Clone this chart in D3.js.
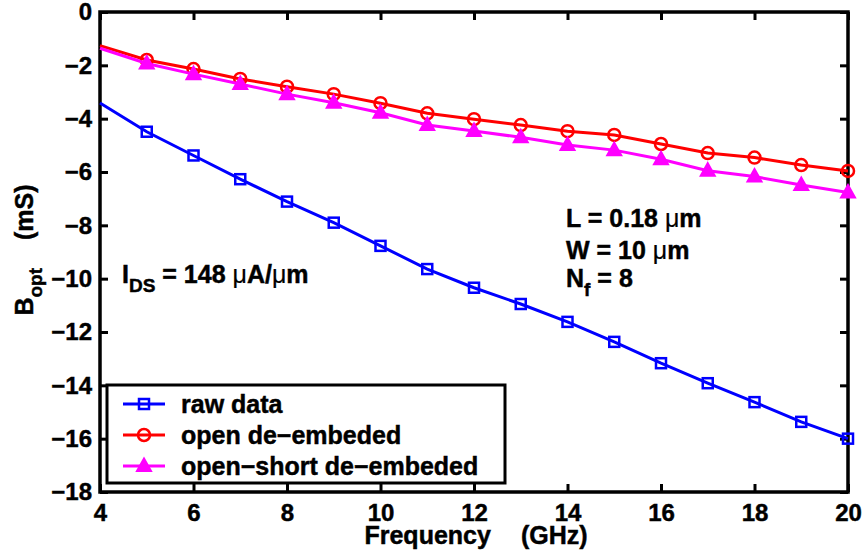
<!DOCTYPE html>
<html>
<head>
<meta charset="utf-8">
<script src="https://cdn.jsdelivr.net/npm/d3@7"></script>
<style>
  body { margin: 0; background: #fff; }
  svg { display: block; }
  svg text { font-family: "Liberation Sans", Arial, sans-serif; font-weight: bold; stroke: #000; stroke-width: 0.45px; }
</style>
</head>
<body>
<div id="canvas"></div>
<script>
// data
const freq = [4, 5, 6, 7, 8, 9, 10, 11, 12, 13, 14, 15, 16, 17, 18, 19, 20];
const rawData = [-3.41, -4.49, -5.38, -6.27, -7.11, -7.9, -8.77, -9.64, -10.34, -10.95, -11.62, -12.37, -13.17, -13.92, -14.63, -15.37, -16.0];
const openDe = [-1.26, -1.8, -2.14, -2.51, -2.8, -3.08, -3.42, -3.8, -4.02, -4.24, -4.47, -4.61, -4.95, -5.29, -5.46, -5.74, -5.96];
const openShortDe = [-1.36, -1.93, -2.33, -2.7, -3.08, -3.4, -3.78, -4.24, -4.46, -4.7, -4.99, -5.18, -5.52, -5.95, -6.17, -6.49, -6.77];
const xTicks = [4, 6, 8, 10, 12, 14, 16, 18, 20];
const yTicks = [0, -2, -4, -6, -8, -10, -12, -14, -16, -18];
const seriesNames = ["raw data", "open de\u2212embeded", "open\u2212short de\u2212embeded"];

// set the dimensions and margins of the graph
const W = 866, H = 557;
const margin = {top: 12, right: 18, bottom: 65, left: 100},
    width = W - margin.left - margin.right,
    height = H - margin.top - margin.bottom;

const svg = d3.select("#canvas")
    .append("svg")
    .attr("width", W)
    .attr("height", H);

const g = svg.append("g")
    .attr("transform", `translate(${margin.left},${margin.top})`);

const x = d3.scaleLinear().domain([4, 20]).range([0, width]);
const y = d3.scaleLinear().domain([-18, 0]).range([height, 0]);

const fmt = d => String(d).replace("-", "\u2212");

// axes: ticks inside on all four sides
const tick = 8;
g.append("g")
    .attr("transform", `translate(0,${height})`)
    .call(d3.axisBottom(x).tickValues(xTicks).tickSizeInner(-tick).tickSizeOuter(0).tickPadding(12).tickFormat(fmt));
g.append("g")
    .call(d3.axisTop(x).tickValues(xTicks).tickSizeInner(-tick).tickSizeOuter(0).tickFormat(""));
g.append("g")
    .call(d3.axisLeft(y).tickValues(yTicks).tickSizeInner(-tick).tickSizeOuter(0).tickPadding(8).tickFormat(fmt));
g.append("g")
    .attr("transform", `translate(${width},0)`)
    .call(d3.axisRight(y).tickValues(yTicks).tickSizeInner(-tick).tickSizeOuter(0).tickFormat(""));

g.selectAll(".domain").remove();
g.selectAll(".tick line").attr("stroke", "#000").attr("stroke-width", 3);
g.selectAll(".tick text")
    .attr("fill", "#000")
    .style("font-size", "24px");

// box
g.append("rect")
    .attr("x", 0).attr("y", 0)
    .attr("width", width).attr("height", height)
    .attr("fill", "none").attr("stroke", "#000").attr("stroke-width", 3.5);

// series
const series = [
    {name: seriesNames[0], values: rawData, color: "#0000ff", marker: "square"},
    {name: seriesNames[1], values: openDe, color: "#ff0000", marker: "circle"},
    {name: seriesNames[2], values: openShortDe, color: "#ff00ff", marker: "triangle"}
];

const line = d3.line()
    .x((d, i) => x(freq[i]))
    .y(d => y(d));

function drawMarker(sel, type, color, cx, cy) {
    if (type === "square") {
        sel.append("rect")
            .attr("x", cx - 5).attr("y", cy - 5)
            .attr("width", 10).attr("height", 10)
            .attr("fill", "none").attr("stroke", color).attr("stroke-width", 2.5);
    } else if (type === "circle") {
        sel.append("circle")
            .attr("cx", cx).attr("cy", cy).attr("r", 6)
            .attr("fill", "none").attr("stroke", color).attr("stroke-width", 2.5);
    } else {
        sel.append("path")
            .attr("d", `M${cx},${cy - 7.5}L${cx + 7},${cy + 5}L${cx - 7},${cy + 5}Z`)
            .attr("fill", color).attr("stroke", color).attr("stroke-width", 2);
    }
}

series.forEach(s => {
    g.append("path")
        .datum(s.values)
        .attr("d", line)
        .attr("fill", "none")
        .attr("stroke", s.color)
        .attr("stroke-width", 3);
    const mg = g.append("g");
    s.values.forEach((v, i) => {
        if (i === 0) return; // no marker at 4 GHz
        drawMarker(mg, s.marker, s.color, x(freq[i]), y(v));
    });
});

// annotations
const ann = g.append("g").style("font-size", "25px").attr("fill", "#000");
const mu = sel => sel.append("tspan").style("font-weight", "normal").style("stroke-width", "0.2px").text("\u03bc");
const t1 = ann.append("text").attr("x", 22).attr("y", 271);
t1.append("tspan").text("I");
t1.append("tspan").attr("dy", 9).style("font-size", "19px").text("DS");
t1.append("tspan").attr("dy", -9).text(" = 148 ");
mu(t1);
t1.append("tspan").text("A/");
mu(t1);
t1.append("tspan").text("m");

const tL = ann.append("text").attr("x", 466).attr("y", 215);
tL.append("tspan").text("L = 0.18 ");
mu(tL);
tL.append("tspan").text("m");
const tW = ann.append("text").attr("x", 466).attr("y", 247);
tW.append("tspan").text("W = 10 ");
mu(tW);
tW.append("tspan").text("m");
const tN = ann.append("text").attr("x", 466).attr("y", 275);
tN.append("tspan").text("N");
tN.append("tspan").attr("dy", 9).style("font-size", "19px").text("f");
tN.append("tspan").attr("dy", -9).text(" = 8");

// legend
const lg = g.append("g").attr("transform", "translate(7,373)");
lg.append("rect")
    .attr("x", 0).attr("y", 0).attr("width", 398).attr("height", 98)
    .attr("fill", "#fff").attr("stroke", "#000").attr("stroke-width", 3);
series.forEach((s, i) => {
    const ly = 19 + i * 31;
    lg.append("line")
        .attr("x1", 16).attr("x2", 58).attr("y1", ly).attr("y2", ly)
        .attr("stroke", s.color).attr("stroke-width", 3);
    drawMarker(lg, s.marker, s.color, 37, ly);
    lg.append("text")
        .attr("x", 74).attr("y", ly + 9)
        .style("font-size", "25px")
        .text(s.name);
});

// axis titles
const xt = svg.append("text")
    .attr("x", 476)
    .attr("y", 544)
    .attr("text-anchor", "middle")
    .style("font-size", "25px");
xt.append("tspan").text("Frequency");
xt.append("tspan").attr("dx", 30).text("(GHz)");

const yt = svg.append("text")
    .attr("transform", `translate(33,250) rotate(-90)`)
    .attr("text-anchor", "middle")
    .style("font-size", "25px");
yt.append("tspan").text("B");
yt.append("tspan").attr("dy", 9).style("font-size", "19px").text("opt");
yt.append("tspan").attr("dy", -9).attr("dx", 28).text("(mS)");
</script>
</body>
</html>
